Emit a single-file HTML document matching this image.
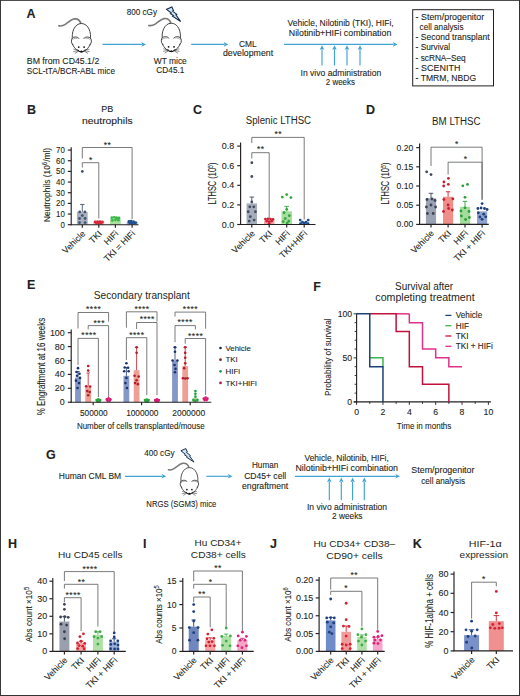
<!DOCTYPE html><html><head><meta charset="utf-8"><style>html,body{margin:0;padding:0;background:#fff;}svg{display:block;}text{font-family:"Liberation Sans", sans-serif;fill:#231f20;stroke:#231f20;stroke-width:0.1px;}</style></head><body>
<svg width="520" height="696" viewBox="0 0 520 696">
<rect x="0.00" y="0.00" width="520.00" height="696.00" fill="#ffffff" stroke="none" stroke-width="0"/>
<defs>
<g id="mouse">
 <path d="M-0.2,0.6 C-1.2,-2.8 -3.5,-5 -7,-4.6 C-10.5,-4.1 -13.5,-0.8 -16.5,1.2 C-18.5,2.5 -20.5,2.7 -22.6,2.3" fill="none" stroke="#7a7a7a" stroke-width="1.6" stroke-linecap="round"/>
 <path d="M-8.7,16.8 C-10.5,9 -6.8,0 0,0 C6.8,0 10.5,9 8.7,16.8 Z" fill="#fff" stroke="#262626" stroke-width="0.85"/>
 <circle cx="-5.9" cy="17.6" r="4.1" fill="#fff" stroke="#262626" stroke-width="0.85"/>
 <circle cx="5.9" cy="17.6" r="4.1" fill="#fff" stroke="#262626" stroke-width="0.85"/>
 <path d="M-9,16.6 A3.4,3.4 0 0 1 -2.6,17.6" fill="none" stroke="#a0a0a0" stroke-width="0.9"/>
 <path d="M9,16.6 A3.4,3.4 0 0 0 2.6,17.6" fill="none" stroke="#a0a0a0" stroke-width="0.9"/>
 <path d="M-5,15.2 L5,15.2 L8.2,20.5 C6,25 3,28.4 0,28.4 C-3,28.4 -6,25 -8.2,20.5 Z" fill="#fff"/>
 <path d="M-9,20.6 C-7.2,24.8 -3.2,28.4 0,28.4 C3.2,28.4 7.2,24.8 9,20.6" fill="none" stroke="#262626" stroke-width="0.85"/>
 <circle cx="-2.7" cy="23.6" r="0.9" fill="#111"/>
 <circle cx="2.7" cy="23.6" r="0.9" fill="#111"/>
 <path d="M-3.4,26.3 Q-1.8,29 0,28.4 Q1.8,29 3.4,26.3" fill="none" stroke="#111" stroke-width="1"/>
 <circle cx="0" cy="27.9" r="0.9" fill="#111"/>
 <path d="M-3,26.6 L-8,25.6 M-3,27.1 L-8.2,28.2 M-2.8,27.5 L-6.6,30 M3,26.6 L8,25.6 M3,27.1 L8.2,28.2 M2.8,27.5 L6.6,30" stroke="#2a2a2a" stroke-width="0.55" fill="none"/>
</g>
<g id="bolt">
 <path d="M0,2.3 L5.3,0 L6.9,3.6 L6,4.1 L10.2,7.4 L9.3,7.9 L14.1,14.5 L6,9.2 L6.8,8.6 L3.9,6.7 L4.7,6.1 Z" fill="#cfe5f6" stroke="#16264a" stroke-width="1.05" stroke-linejoin="miter"/>
</g>
</defs>
<text x="26.50" y="17.80" font-size="12.5" font-weight="bold">A</text>
<use href="#mouse" transform="translate(81.4,23.5)"/>
<text x="26.80" y="63.80" font-size="9" textLength="72.5" lengthAdjust="spacingAndGlyphs">BM from CD45.1/2</text>
<text x="26.80" y="74.40" font-size="9" textLength="88.2" lengthAdjust="spacingAndGlyphs">SCL-tTA/BCR-ABL mice</text>
<line x1="102.50" y1="44.40" x2="141.90" y2="44.40" stroke="#3fa3d1" stroke-width="1.15"/>
<path d="M146.00,44.40 L141.40,42.10 L142.32,44.40 L141.40,46.70 Z" fill="#3fa3d1"/>
<text x="126.70" y="14.50" font-size="9" textLength="30.3" lengthAdjust="spacingAndGlyphs">800 cGy</text>
<use href="#bolt" transform="translate(166.6,7)"/>
<use href="#mouse" transform="translate(171.3,23.2)"/>
<text x="153.70" y="63.70" font-size="9" textLength="33.1" lengthAdjust="spacingAndGlyphs">WT mice</text>
<text x="156.30" y="73.30" font-size="9" textLength="28.1" lengthAdjust="spacingAndGlyphs">CD45.1</text>
<line x1="191.20" y1="44.40" x2="224.20" y2="44.40" stroke="#3fa3d1" stroke-width="1.15"/>
<path d="M228.30,44.40 L223.70,42.10 L224.62,44.40 L223.70,46.70 Z" fill="#3fa3d1"/>
<text x="239.00" y="46.50" font-size="9" textLength="17.7" lengthAdjust="spacingAndGlyphs">CML</text>
<text x="222.90" y="56.10" font-size="9" textLength="50.2" lengthAdjust="spacingAndGlyphs">development</text>
<line x1="284.00" y1="44.40" x2="393.40" y2="44.40" stroke="#3fa3d1" stroke-width="1.15"/>
<path d="M397.50,44.40 L392.90,42.10 L393.82,44.40 L392.90,46.70 Z" fill="#3fa3d1"/>
<line x1="322.00" y1="65.50" x2="322.00" y2="49.30" stroke="#3fa3d1" stroke-width="1.15"/>
<path d="M322.00,45.20 L319.70,49.80 L322.00,48.88 L324.30,49.80 Z" fill="#3fa3d1"/>
<line x1="334.50" y1="65.50" x2="334.50" y2="49.30" stroke="#3fa3d1" stroke-width="1.15"/>
<path d="M334.50,45.20 L332.20,49.80 L334.50,48.88 L336.80,49.80 Z" fill="#3fa3d1"/>
<line x1="347.00" y1="65.50" x2="347.00" y2="49.30" stroke="#3fa3d1" stroke-width="1.15"/>
<path d="M347.00,45.20 L344.70,49.80 L347.00,48.88 L349.30,49.80 Z" fill="#3fa3d1"/>
<line x1="360.00" y1="65.50" x2="360.00" y2="49.30" stroke="#3fa3d1" stroke-width="1.15"/>
<path d="M360.00,45.20 L357.70,49.80 L360.00,48.88 L362.30,49.80 Z" fill="#3fa3d1"/>
<text x="287.50" y="25.70" font-size="9" textLength="106.2" lengthAdjust="spacingAndGlyphs">Vehicle, Nilotinib (TKI), HIFi,</text>
<text x="288.80" y="35.70" font-size="9" textLength="102.5" lengthAdjust="spacingAndGlyphs">Nilotinib+HIFi combination</text>
<text x="300.50" y="75.70" font-size="9" textLength="80.7" lengthAdjust="spacingAndGlyphs">In vivo administration</text>
<text x="325.80" y="85.20" font-size="9" textLength="29.2" lengthAdjust="spacingAndGlyphs">2 weeks</text>
<rect x="412.70" y="9.70" width="80.80" height="76.20" fill="none" stroke="#231f20" stroke-width="1"/>
<text x="415.60" y="19.80" font-size="9" textLength="68.6" lengthAdjust="spacingAndGlyphs">- Stem/progenitor</text>
<text x="419.60" y="30.00" font-size="9" textLength="43.9" lengthAdjust="spacingAndGlyphs">cell analysis</text>
<text x="415.60" y="40.20" font-size="9" textLength="73.9" lengthAdjust="spacingAndGlyphs">- Second transplant</text>
<text x="415.60" y="50.40" font-size="9" textLength="34.6" lengthAdjust="spacingAndGlyphs">- Survival</text>
<text x="415.60" y="60.60" font-size="9" textLength="50.1" lengthAdjust="spacingAndGlyphs">- scRNA–Seq</text>
<text x="415.60" y="70.80" font-size="9" textLength="44.8" lengthAdjust="spacingAndGlyphs">- SCENITH</text>
<text x="415.60" y="81.00" font-size="9" textLength="60.5" lengthAdjust="spacingAndGlyphs">- TMRM, NBDG</text>
<text x="27.00" y="113.80" font-size="12.5" font-weight="bold">B</text>
<text x="107.30" y="111.90" font-size="9" text-anchor="middle">PB</text>
<text x="107.30" y="124.10" font-size="9" text-anchor="middle" textLength="50.6" lengthAdjust="spacingAndGlyphs">neutrophils</text>
<line x1="71.20" y1="147.30" x2="71.20" y2="225.15" stroke="#231f20" stroke-width="1.15"/>
<line x1="67.80" y1="224.70" x2="71.20" y2="224.70" stroke="#231f20" stroke-width="1.15"/>
<text x="64.80" y="227.74" font-size="9.2" text-anchor="end" textLength="4.4" lengthAdjust="spacingAndGlyphs">0</text>
<line x1="67.80" y1="214.04" x2="71.20" y2="214.04" stroke="#231f20" stroke-width="1.15"/>
<text x="64.80" y="217.08" font-size="9.2" text-anchor="end" textLength="8.8" lengthAdjust="spacingAndGlyphs">10</text>
<line x1="67.80" y1="203.38" x2="71.20" y2="203.38" stroke="#231f20" stroke-width="1.15"/>
<text x="64.80" y="206.42" font-size="9.2" text-anchor="end" textLength="8.8" lengthAdjust="spacingAndGlyphs">20</text>
<line x1="67.80" y1="192.72" x2="71.20" y2="192.72" stroke="#231f20" stroke-width="1.15"/>
<text x="64.80" y="195.76" font-size="9.2" text-anchor="end" textLength="8.8" lengthAdjust="spacingAndGlyphs">30</text>
<line x1="67.80" y1="182.06" x2="71.20" y2="182.06" stroke="#231f20" stroke-width="1.15"/>
<text x="64.80" y="185.10" font-size="9.2" text-anchor="end" textLength="8.8" lengthAdjust="spacingAndGlyphs">40</text>
<line x1="67.80" y1="171.40" x2="71.20" y2="171.40" stroke="#231f20" stroke-width="1.15"/>
<text x="64.80" y="174.44" font-size="9.2" text-anchor="end" textLength="8.8" lengthAdjust="spacingAndGlyphs">50</text>
<line x1="67.80" y1="160.74" x2="71.20" y2="160.74" stroke="#231f20" stroke-width="1.15"/>
<text x="64.80" y="163.78" font-size="9.2" text-anchor="end" textLength="8.8" lengthAdjust="spacingAndGlyphs">60</text>
<line x1="67.80" y1="150.08" x2="71.20" y2="150.08" stroke="#231f20" stroke-width="1.15"/>
<text x="64.80" y="153.12" font-size="9.2" text-anchor="end" textLength="8.8" lengthAdjust="spacingAndGlyphs">70</text>
<text x="50.30" y="185.00" font-size="9.6" text-anchor="middle" transform="rotate(-90 50.30 185.00)" textLength="74.3" lengthAdjust="spacingAndGlyphs">Neutrophils (10<tspan font-size="6.8" dy="-3.3">6</tspan><tspan dy="3.3">/ml)</tspan></text>
<rect x="76.90" y="211.91" width="10.80" height="12.79" fill="#a7b0c0" stroke="none" stroke-width="0"/>
<line x1="82.30" y1="211.91" x2="82.30" y2="204.45" stroke="#4b586c" stroke-width="0.9"/>
<line x1="80.05" y1="204.45" x2="84.55" y2="204.45" stroke="#4b586c" stroke-width="0.9"/>
<circle cx="82.30" cy="171.40" r="1.4" fill="#44526a"/>
<circle cx="79.70" cy="211.91" r="1.4" fill="#44526a"/>
<circle cx="84.90" cy="211.91" r="1.4" fill="#44526a"/>
<circle cx="82.30" cy="215.53" r="1.4" fill="#44526a"/>
<circle cx="79.50" cy="218.52" r="1.4" fill="#44526a"/>
<circle cx="85.10" cy="218.52" r="1.4" fill="#44526a"/>
<circle cx="79.50" cy="222.57" r="1.4" fill="#44526a"/>
<circle cx="85.10" cy="222.57" r="1.4" fill="#44526a"/>
<rect x="93.40" y="221.50" width="10.80" height="3.20" fill="#f2a3a6" stroke="none" stroke-width="0"/>
<circle cx="95.20" cy="221.93" r="1.4" fill="#d42a3c"/>
<circle cx="97.60" cy="221.61" r="1.4" fill="#d42a3c"/>
<circle cx="100.00" cy="221.72" r="1.4" fill="#d42a3c"/>
<circle cx="102.40" cy="221.93" r="1.4" fill="#d42a3c"/>
<circle cx="96.40" cy="223.10" r="1.4" fill="#d42a3c"/>
<circle cx="98.80" cy="222.99" r="1.4" fill="#d42a3c"/>
<circle cx="101.20" cy="223.10" r="1.4" fill="#d42a3c"/>
<rect x="110.00" y="218.84" width="10.80" height="5.86" fill="#a8e0a0" stroke="none" stroke-width="0"/>
<circle cx="111.80" cy="217.77" r="1.4" fill="#3db848"/>
<circle cx="114.20" cy="217.34" r="1.4" fill="#3db848"/>
<circle cx="116.60" cy="217.66" r="1.4" fill="#3db848"/>
<circle cx="119.00" cy="217.88" r="1.4" fill="#3db848"/>
<circle cx="112.40" cy="220.44" r="1.4" fill="#3db848"/>
<circle cx="118.40" cy="220.22" r="1.4" fill="#3db848"/>
<circle cx="115.40" cy="219.90" r="1.4" fill="#3db848"/>
<circle cx="116.60" cy="218.30" r="1.4" fill="#3db848"/>
<rect x="126.70" y="222.03" width="10.80" height="2.66" fill="#8da3cc" stroke="none" stroke-width="0"/>
<circle cx="128.90" cy="221.50" r="1.4" fill="#1f4f90"/>
<circle cx="131.10" cy="221.08" r="1.4" fill="#1f4f90"/>
<circle cx="133.50" cy="221.72" r="1.4" fill="#1f4f90"/>
<circle cx="135.70" cy="222.57" r="1.4" fill="#1f4f90"/>
<circle cx="129.70" cy="222.99" r="1.4" fill="#1f4f90"/>
<circle cx="132.10" cy="222.99" r="1.4" fill="#1f4f90"/>
<circle cx="134.50" cy="223.10" r="1.4" fill="#1f4f90"/>
<line x1="70.75" y1="224.70" x2="138.50" y2="224.70" stroke="#231f20" stroke-width="1.15"/>
<line x1="82.30" y1="224.70" x2="82.30" y2="227.70" stroke="#231f20" stroke-width="1.15"/>
<line x1="98.80" y1="224.70" x2="98.80" y2="227.70" stroke="#231f20" stroke-width="1.15"/>
<line x1="115.40" y1="224.70" x2="115.40" y2="227.70" stroke="#231f20" stroke-width="1.15"/>
<line x1="132.10" y1="224.70" x2="132.10" y2="227.70" stroke="#231f20" stroke-width="1.15"/>
<polyline points="82.30,158.50 82.30,147.50 132.10,147.50 132.10,219.00" stroke="#58595b" stroke-width="0.8" fill="none"/>
<text x="107.45" y="147.78" font-size="8.5" text-anchor="middle" letter-spacing="0.5" fill="#333">**</text>
<polyline points="82.30,167.50 82.30,162.70 98.80,162.70 98.80,218.50" stroke="#58595b" stroke-width="0.8" fill="none"/>
<text x="90.85" y="162.78" font-size="8.5" text-anchor="middle" letter-spacing="0.5" fill="#333">*</text>
<text x="85.90" y="234.20" font-size="8.8" text-anchor="end" transform="rotate(-45 85.90 234.20)">Vehicle</text>
<text x="102.40" y="234.20" font-size="8.8" text-anchor="end" transform="rotate(-45 102.40 234.20)">TKI</text>
<text x="119.00" y="234.20" font-size="8.8" text-anchor="end" transform="rotate(-45 119.00 234.20)">HIFi</text>
<text x="135.70" y="234.20" font-size="8.8" text-anchor="end" transform="rotate(-45 135.70 234.20)">TKI = HIFi</text>
<text x="192.90" y="113.80" font-size="12.5" font-weight="bold">C</text>
<text x="245.80" y="124.20" font-size="10" textLength="65.3" lengthAdjust="spacingAndGlyphs" style="stroke:none">Splenic LTHSC</text>
<line x1="240.60" y1="142.50" x2="240.60" y2="224.95" stroke="#231f20" stroke-width="1.15"/>
<line x1="237.20" y1="224.50" x2="240.60" y2="224.50" stroke="#231f20" stroke-width="1.15"/>
<text x="234.20" y="227.54" font-size="9.2" text-anchor="end" textLength="12.41" lengthAdjust="spacingAndGlyphs">0.0</text>
<line x1="237.20" y1="204.90" x2="240.60" y2="204.90" stroke="#231f20" stroke-width="1.15"/>
<text x="234.20" y="207.94" font-size="9.2" text-anchor="end" textLength="12.41" lengthAdjust="spacingAndGlyphs">0.2</text>
<line x1="237.20" y1="185.30" x2="240.60" y2="185.30" stroke="#231f20" stroke-width="1.15"/>
<text x="234.20" y="188.34" font-size="9.2" text-anchor="end" textLength="12.41" lengthAdjust="spacingAndGlyphs">0.4</text>
<line x1="237.20" y1="165.70" x2="240.60" y2="165.70" stroke="#231f20" stroke-width="1.15"/>
<text x="234.20" y="168.74" font-size="9.2" text-anchor="end" textLength="12.41" lengthAdjust="spacingAndGlyphs">0.6</text>
<line x1="237.20" y1="146.10" x2="240.60" y2="146.10" stroke="#231f20" stroke-width="1.15"/>
<text x="234.20" y="149.14" font-size="9.2" text-anchor="end" textLength="12.41" lengthAdjust="spacingAndGlyphs">0.8</text>
<text x="216.50" y="183.60" font-size="10" text-anchor="middle" transform="rotate(-90 216.50 183.60)" textLength="42" lengthAdjust="spacingAndGlyphs">LTHSC (10<tspan font-size="7" dy="-3.4">5</tspan><tspan dy="3.4">)</tspan></text>
<rect x="246.55" y="203.43" width="10.50" height="21.07" fill="#a5adbd" stroke="none" stroke-width="0"/>
<line x1="251.80" y1="203.43" x2="251.80" y2="197.06" stroke="#434d5e" stroke-width="0.9"/>
<line x1="249.55" y1="197.06" x2="254.05" y2="197.06" stroke="#434d5e" stroke-width="0.9"/>
<circle cx="251.80" cy="162.76" r="1.4" fill="#434d5e"/>
<circle cx="251.80" cy="176.48" r="1.4" fill="#434d5e"/>
<circle cx="251.80" cy="201.96" r="1.4" fill="#434d5e"/>
<circle cx="249.80" cy="206.86" r="1.4" fill="#434d5e"/>
<circle cx="253.80" cy="206.86" r="1.4" fill="#434d5e"/>
<circle cx="248.20" cy="211.76" r="1.4" fill="#434d5e"/>
<circle cx="255.40" cy="211.76" r="1.4" fill="#434d5e"/>
<circle cx="250.30" cy="216.66" r="1.4" fill="#434d5e"/>
<circle cx="254.10" cy="220.09" r="1.4" fill="#434d5e"/>
<circle cx="249.20" cy="221.07" r="1.4" fill="#434d5e"/>
<rect x="263.95" y="220.58" width="10.50" height="3.92" fill="#f2a3a6" stroke="none" stroke-width="0"/>
<circle cx="265.40" cy="219.11" r="1.4" fill="#cc1f34"/>
<circle cx="267.90" cy="218.82" r="1.4" fill="#cc1f34"/>
<circle cx="270.50" cy="219.11" r="1.4" fill="#cc1f34"/>
<circle cx="273.00" cy="219.40" r="1.4" fill="#cc1f34"/>
<circle cx="266.70" cy="221.07" r="1.4" fill="#cc1f34"/>
<circle cx="269.20" cy="221.56" r="1.4" fill="#cc1f34"/>
<circle cx="271.70" cy="221.07" r="1.4" fill="#cc1f34"/>
<circle cx="269.20" cy="223.32" r="1.4" fill="#cc1f34"/>
<rect x="281.45" y="211.27" width="10.50" height="13.23" fill="#a8dca0" stroke="none" stroke-width="0"/>
<line x1="286.70" y1="211.27" x2="286.70" y2="206.37" stroke="#2fa83a" stroke-width="0.9"/>
<line x1="284.45" y1="206.37" x2="288.95" y2="206.37" stroke="#2fa83a" stroke-width="0.9"/>
<circle cx="282.30" cy="197.06" r="1.4" fill="#2fa83a"/>
<circle cx="286.70" cy="194.61" r="1.4" fill="#2fa83a"/>
<circle cx="290.90" cy="197.55" r="1.4" fill="#2fa83a"/>
<circle cx="286.70" cy="209.31" r="1.4" fill="#2fa83a"/>
<circle cx="284.10" cy="212.74" r="1.4" fill="#2fa83a"/>
<circle cx="289.30" cy="215.68" r="1.4" fill="#2fa83a"/>
<circle cx="285.20" cy="218.62" r="1.4" fill="#2fa83a"/>
<circle cx="288.70" cy="221.07" r="1.4" fill="#2fa83a"/>
<circle cx="283.20" cy="221.56" r="1.4" fill="#2fa83a"/>
<circle cx="287.20" cy="223.03" r="1.4" fill="#2fa83a"/>
<rect x="298.95" y="222.54" width="10.50" height="1.96" fill="#8da3cc" stroke="none" stroke-width="0"/>
<circle cx="300.20" cy="220.09" r="1.4" fill="#1b4b8a"/>
<circle cx="308.20" cy="220.09" r="1.4" fill="#1b4b8a"/>
<circle cx="302.40" cy="222.05" r="1.4" fill="#1b4b8a"/>
<circle cx="306.00" cy="222.05" r="1.4" fill="#1b4b8a"/>
<circle cx="304.20" cy="223.03" r="1.4" fill="#1b4b8a"/>
<circle cx="300.60" cy="223.72" r="1.4" fill="#1b4b8a"/>
<circle cx="307.80" cy="223.72" r="1.4" fill="#1b4b8a"/>
<line x1="240.15" y1="224.50" x2="315.50" y2="224.50" stroke="#231f20" stroke-width="1.15"/>
<line x1="251.80" y1="224.50" x2="251.80" y2="227.50" stroke="#231f20" stroke-width="1.15"/>
<line x1="269.20" y1="224.50" x2="269.20" y2="227.50" stroke="#231f20" stroke-width="1.15"/>
<line x1="286.70" y1="224.50" x2="286.70" y2="227.50" stroke="#231f20" stroke-width="1.15"/>
<line x1="304.20" y1="224.50" x2="304.20" y2="227.50" stroke="#231f20" stroke-width="1.15"/>
<polyline points="251.80,143.00 251.80,137.40 304.20,137.40 304.20,219.50" stroke="#58595b" stroke-width="0.8" fill="none"/>
<text x="278.25" y="136.98" font-size="8.5" text-anchor="middle" letter-spacing="0.5" fill="#333">**</text>
<polyline points="251.80,158.50 251.80,152.70 269.20,152.70 269.20,218.50" stroke="#58595b" stroke-width="0.8" fill="none"/>
<text x="260.75" y="152.48" font-size="8.5" text-anchor="middle" letter-spacing="0.5" fill="#333">**</text>
<text x="255.40" y="234.00" font-size="8.8" text-anchor="end" transform="rotate(-45 255.40 234.00)">Vehicle</text>
<text x="272.80" y="234.00" font-size="8.8" text-anchor="end" transform="rotate(-45 272.80 234.00)">TKI</text>
<text x="290.30" y="234.00" font-size="8.8" text-anchor="end" transform="rotate(-45 290.30 234.00)">HIFi</text>
<text x="307.80" y="234.00" font-size="8.8" text-anchor="end" transform="rotate(-45 307.80 234.00)">TKI+HIFi</text>
<text x="366.00" y="113.80" font-size="12.5" font-weight="bold">D</text>
<text x="432.10" y="124.60" font-size="10" textLength="48.5" lengthAdjust="spacingAndGlyphs" style="stroke:none">BM LTHSC</text>
<line x1="419.60" y1="143.50" x2="419.60" y2="224.85" stroke="#231f20" stroke-width="1.15"/>
<line x1="416.20" y1="224.40" x2="419.60" y2="224.40" stroke="#231f20" stroke-width="1.15"/>
<text x="413.20" y="227.44" font-size="9.2" text-anchor="end" textLength="16.65" lengthAdjust="spacingAndGlyphs">0.00</text>
<line x1="416.20" y1="205.21" x2="419.60" y2="205.21" stroke="#231f20" stroke-width="1.15"/>
<text x="413.20" y="208.25" font-size="9.2" text-anchor="end" textLength="16.65" lengthAdjust="spacingAndGlyphs">0.05</text>
<line x1="416.20" y1="186.02" x2="419.60" y2="186.02" stroke="#231f20" stroke-width="1.15"/>
<text x="413.20" y="189.06" font-size="9.2" text-anchor="end" textLength="16.65" lengthAdjust="spacingAndGlyphs">0.10</text>
<line x1="416.20" y1="166.83" x2="419.60" y2="166.83" stroke="#231f20" stroke-width="1.15"/>
<text x="413.20" y="169.87" font-size="9.2" text-anchor="end" textLength="16.65" lengthAdjust="spacingAndGlyphs">0.15</text>
<line x1="416.20" y1="147.64" x2="419.60" y2="147.64" stroke="#231f20" stroke-width="1.15"/>
<text x="413.20" y="150.68" font-size="9.2" text-anchor="end" textLength="16.65" lengthAdjust="spacingAndGlyphs">0.20</text>
<text x="389.40" y="183.60" font-size="10" text-anchor="middle" transform="rotate(-90 389.40 183.60)" textLength="42" lengthAdjust="spacingAndGlyphs">LTHSC (10<tspan font-size="7" dy="-3.4">5</tspan><tspan dy="3.4">)</tspan></text>
<rect x="425.90" y="198.30" width="10.20" height="26.10" fill="#9ba3b3" stroke="none" stroke-width="0"/>
<line x1="431.00" y1="198.30" x2="431.00" y2="193.31" stroke="#3c4456" stroke-width="0.9"/>
<line x1="428.75" y1="193.31" x2="433.25" y2="193.31" stroke="#3c4456" stroke-width="0.9"/>
<circle cx="426.70" cy="171.80" r="1.4" fill="#3c4456"/>
<circle cx="431.00" cy="174.60" r="1.4" fill="#3c4456"/>
<circle cx="427.00" cy="199.50" r="1.4" fill="#3c4456"/>
<circle cx="432.00" cy="199.00" r="1.4" fill="#3c4456"/>
<circle cx="435.00" cy="200.50" r="1.4" fill="#3c4456"/>
<circle cx="426.40" cy="207.00" r="1.4" fill="#3c4456"/>
<circle cx="431.00" cy="205.00" r="1.4" fill="#3c4456"/>
<circle cx="435.60" cy="207.00" r="1.4" fill="#3c4456"/>
<circle cx="427.40" cy="213.50" r="1.4" fill="#3c4456"/>
<circle cx="433.20" cy="213.50" r="1.4" fill="#3c4456"/>
<rect x="443.00" y="196.77" width="10.20" height="27.63" fill="#ef8f8a" stroke="none" stroke-width="0"/>
<line x1="448.10" y1="196.77" x2="448.10" y2="191.78" stroke="#c81e32" stroke-width="0.9"/>
<line x1="445.85" y1="191.78" x2="450.35" y2="191.78" stroke="#c81e32" stroke-width="0.9"/>
<circle cx="448.40" cy="178.30" r="1.4" fill="#c81e32"/>
<circle cx="443.90" cy="182.00" r="1.4" fill="#c81e32"/>
<circle cx="448.30" cy="184.30" r="1.4" fill="#c81e32"/>
<circle cx="443.70" cy="186.00" r="1.4" fill="#c81e32"/>
<circle cx="452.90" cy="198.80" r="1.4" fill="#c81e32"/>
<circle cx="443.90" cy="199.50" r="1.4" fill="#c81e32"/>
<circle cx="448.10" cy="205.00" r="1.4" fill="#c81e32"/>
<circle cx="443.50" cy="211.50" r="1.4" fill="#c81e32"/>
<circle cx="452.30" cy="210.00" r="1.4" fill="#c81e32"/>
<circle cx="448.60" cy="208.50" r="1.4" fill="#c81e32"/>
<rect x="459.90" y="206.75" width="10.20" height="17.65" fill="#a4dc9c" stroke="none" stroke-width="0"/>
<line x1="465.00" y1="206.75" x2="465.00" y2="201.37" stroke="#2d9e3a" stroke-width="0.9"/>
<line x1="462.75" y1="201.37" x2="467.25" y2="201.37" stroke="#2d9e3a" stroke-width="0.9"/>
<circle cx="462.80" cy="185.80" r="1.4" fill="#2d9e3a"/>
<circle cx="467.50" cy="184.40" r="1.4" fill="#2d9e3a"/>
<circle cx="465.00" cy="197.30" r="1.4" fill="#2d9e3a"/>
<circle cx="465.00" cy="207.80" r="1.4" fill="#2d9e3a"/>
<circle cx="461.00" cy="211.00" r="1.4" fill="#2d9e3a"/>
<circle cx="469.00" cy="211.50" r="1.4" fill="#2d9e3a"/>
<circle cx="461.40" cy="216.00" r="1.4" fill="#2d9e3a"/>
<circle cx="465.60" cy="219.50" r="1.4" fill="#2d9e3a"/>
<circle cx="469.40" cy="217.50" r="1.4" fill="#2d9e3a"/>
<rect x="477.00" y="211.35" width="10.20" height="13.05" fill="#8ea3cf" stroke="none" stroke-width="0"/>
<circle cx="482.10" cy="203.60" r="1.4" fill="#1d3f7c"/>
<circle cx="477.90" cy="208.50" r="1.4" fill="#1d3f7c"/>
<circle cx="481.10" cy="208.00" r="1.4" fill="#1d3f7c"/>
<circle cx="484.50" cy="208.50" r="1.4" fill="#1d3f7c"/>
<circle cx="487.10" cy="209.50" r="1.4" fill="#1d3f7c"/>
<circle cx="478.30" cy="212.80" r="1.4" fill="#1d3f7c"/>
<circle cx="483.70" cy="214.20" r="1.4" fill="#1d3f7c"/>
<circle cx="479.90" cy="217.00" r="1.4" fill="#1d3f7c"/>
<circle cx="485.70" cy="216.80" r="1.4" fill="#1d3f7c"/>
<circle cx="482.10" cy="219.30" r="1.4" fill="#1d3f7c"/>
<line x1="419.15" y1="224.40" x2="488.80" y2="224.40" stroke="#231f20" stroke-width="1.15"/>
<line x1="431.00" y1="224.40" x2="431.00" y2="227.40" stroke="#231f20" stroke-width="1.15"/>
<line x1="448.10" y1="224.40" x2="448.10" y2="227.40" stroke="#231f20" stroke-width="1.15"/>
<line x1="465.00" y1="224.40" x2="465.00" y2="227.40" stroke="#231f20" stroke-width="1.15"/>
<line x1="482.10" y1="224.40" x2="482.10" y2="227.40" stroke="#231f20" stroke-width="1.15"/>
<polyline points="431.00,166.00 431.00,147.20 482.10,147.20 482.10,199.50" stroke="#58595b" stroke-width="0.8" fill="none"/>
<text x="456.80" y="146.68" font-size="8.5" text-anchor="middle" letter-spacing="0.5" fill="#333">*</text>
<polyline points="448.10,174.50 448.10,162.20 482.10,162.20 482.10,200.00" stroke="#58595b" stroke-width="0.8" fill="none"/>
<text x="465.55" y="161.68" font-size="8.5" text-anchor="middle" letter-spacing="0.5" fill="#333">*</text>
<text x="434.60" y="233.90" font-size="8.8" text-anchor="end" transform="rotate(-45 434.60 233.90)">Vehicle</text>
<text x="451.70" y="233.90" font-size="8.8" text-anchor="end" transform="rotate(-45 451.70 233.90)">TKI</text>
<text x="468.60" y="233.90" font-size="8.8" text-anchor="end" transform="rotate(-45 468.60 233.90)">HIFi</text>
<text x="485.70" y="233.90" font-size="8.8" text-anchor="end" transform="rotate(-45 485.70 233.90)">TKI + HIFi</text>
<text x="27.00" y="289.00" font-size="12.5" font-weight="bold">E</text>
<text x="93.80" y="299.10" font-size="10.3" textLength="96" lengthAdjust="spacingAndGlyphs" style="stroke:none">Secondary transplant</text>
<line x1="71.20" y1="329.50" x2="71.20" y2="402.65" stroke="#231f20" stroke-width="1.15"/>
<line x1="67.80" y1="402.20" x2="71.20" y2="402.20" stroke="#231f20" stroke-width="1.15"/>
<text x="64.80" y="405.24" font-size="9.2" text-anchor="end" textLength="4.96" lengthAdjust="spacingAndGlyphs">0</text>
<line x1="67.80" y1="388.30" x2="71.20" y2="388.30" stroke="#231f20" stroke-width="1.15"/>
<text x="64.80" y="391.34" font-size="9.2" text-anchor="end" textLength="9.93" lengthAdjust="spacingAndGlyphs">20</text>
<line x1="67.80" y1="374.40" x2="71.20" y2="374.40" stroke="#231f20" stroke-width="1.15"/>
<text x="64.80" y="377.44" font-size="9.2" text-anchor="end" textLength="9.93" lengthAdjust="spacingAndGlyphs">40</text>
<line x1="67.80" y1="360.50" x2="71.20" y2="360.50" stroke="#231f20" stroke-width="1.15"/>
<text x="64.80" y="363.54" font-size="9.2" text-anchor="end" textLength="9.93" lengthAdjust="spacingAndGlyphs">60</text>
<line x1="67.80" y1="346.60" x2="71.20" y2="346.60" stroke="#231f20" stroke-width="1.15"/>
<text x="64.80" y="349.64" font-size="9.2" text-anchor="end" textLength="9.93" lengthAdjust="spacingAndGlyphs">80</text>
<line x1="67.80" y1="332.70" x2="71.20" y2="332.70" stroke="#231f20" stroke-width="1.15"/>
<text x="64.80" y="335.74" font-size="9.2" text-anchor="end" textLength="14.89" lengthAdjust="spacingAndGlyphs">100</text>
<text x="44.50" y="366.50" font-size="10" text-anchor="middle" transform="rotate(-90 44.50 366.50)" textLength="97.5" lengthAdjust="spacingAndGlyphs">% Engraftment at 16 weeks</text>
<rect x="75.10" y="377.53" width="5.80" height="24.67" fill="#8598c6" stroke="none" stroke-width="0"/>
<line x1="78.00" y1="377.53" x2="78.00" y2="371.62" stroke="#1a3370" stroke-width="0.8"/>
<line x1="76.30" y1="371.62" x2="79.70" y2="371.62" stroke="#1a3370" stroke-width="0.8"/>
<circle cx="78.00" cy="368.14" r="1.3" fill="#1a3370"/>
<circle cx="76.50" cy="371.97" r="1.3" fill="#1a3370"/>
<circle cx="79.50" cy="373.70" r="1.3" fill="#1a3370"/>
<circle cx="77.00" cy="375.79" r="1.3" fill="#1a3370"/>
<circle cx="80.00" cy="377.88" r="1.3" fill="#1a3370"/>
<circle cx="76.00" cy="380.65" r="1.3" fill="#1a3370"/>
<circle cx="79.00" cy="383.09" r="1.3" fill="#1a3370"/>
<circle cx="77.50" cy="387.95" r="1.3" fill="#1a3370"/>
<rect x="85.30" y="386.21" width="5.80" height="15.99" fill="#eea095" stroke="none" stroke-width="0"/>
<line x1="88.20" y1="386.21" x2="88.20" y2="373.01" stroke="#b81a2a" stroke-width="0.8"/>
<line x1="86.50" y1="373.01" x2="89.90" y2="373.01" stroke="#b81a2a" stroke-width="0.8"/>
<circle cx="88.20" cy="366.06" r="1.3" fill="#b81a2a"/>
<circle cx="88.20" cy="370.58" r="1.3" fill="#b81a2a"/>
<circle cx="86.20" cy="386.21" r="1.3" fill="#b81a2a"/>
<circle cx="90.20" cy="386.56" r="1.3" fill="#b81a2a"/>
<circle cx="87.20" cy="391.08" r="1.3" fill="#b81a2a"/>
<circle cx="89.70" cy="392.12" r="1.3" fill="#b81a2a"/>
<circle cx="88.20" cy="395.25" r="1.3" fill="#b81a2a"/>
<circle cx="96.60" cy="400.12" r="1.35" fill="#2aa23e"/>
<circle cx="98.40" cy="399.42" r="1.35" fill="#2aa23e"/>
<circle cx="100.20" cy="400.12" r="1.35" fill="#2aa23e"/>
<circle cx="97.40" cy="401.16" r="1.35" fill="#2aa23e"/>
<circle cx="99.40" cy="401.16" r="1.35" fill="#2aa23e"/>
<circle cx="106.80" cy="399.42" r="1.35" fill="#d81a72"/>
<circle cx="108.60" cy="398.38" r="1.35" fill="#d81a72"/>
<circle cx="110.40" cy="399.42" r="1.35" fill="#d81a72"/>
<circle cx="107.60" cy="400.81" r="1.35" fill="#d81a72"/>
<circle cx="109.60" cy="400.67" r="1.35" fill="#d81a72"/>
<rect x="123.50" y="375.79" width="5.80" height="26.41" fill="#8598c6" stroke="none" stroke-width="0"/>
<line x1="126.40" y1="375.79" x2="126.40" y2="367.45" stroke="#1a3370" stroke-width="0.8"/>
<line x1="124.70" y1="367.45" x2="128.10" y2="367.45" stroke="#1a3370" stroke-width="0.8"/>
<circle cx="126.40" cy="363.28" r="1.3" fill="#1a3370"/>
<circle cx="124.70" cy="367.45" r="1.3" fill="#1a3370"/>
<circle cx="128.10" cy="367.80" r="1.3" fill="#1a3370"/>
<circle cx="124.20" cy="371.27" r="1.3" fill="#1a3370"/>
<circle cx="128.60" cy="371.27" r="1.3" fill="#1a3370"/>
<circle cx="126.40" cy="377.88" r="1.3" fill="#1a3370"/>
<circle cx="125.40" cy="383.09" r="1.3" fill="#1a3370"/>
<circle cx="126.90" cy="387.95" r="1.3" fill="#1a3370"/>
<rect x="133.70" y="370.23" width="5.80" height="31.97" fill="#eea095" stroke="none" stroke-width="0"/>
<line x1="136.60" y1="370.23" x2="136.60" y2="347.30" stroke="#b81a2a" stroke-width="0.8"/>
<line x1="134.90" y1="347.30" x2="138.30" y2="347.30" stroke="#b81a2a" stroke-width="0.8"/>
<circle cx="136.60" cy="347.30" r="1.3" fill="#b81a2a"/>
<circle cx="136.60" cy="352.86" r="1.3" fill="#b81a2a"/>
<circle cx="134.60" cy="375.79" r="1.3" fill="#b81a2a"/>
<circle cx="138.60" cy="376.49" r="1.3" fill="#b81a2a"/>
<circle cx="136.60" cy="380.31" r="1.3" fill="#b81a2a"/>
<circle cx="135.10" cy="383.09" r="1.3" fill="#b81a2a"/>
<circle cx="137.80" cy="384.13" r="1.3" fill="#b81a2a"/>
<circle cx="145.00" cy="400.12" r="1.35" fill="#2aa23e"/>
<circle cx="146.80" cy="399.56" r="1.35" fill="#2aa23e"/>
<circle cx="148.60" cy="400.12" r="1.35" fill="#2aa23e"/>
<circle cx="145.80" cy="401.16" r="1.35" fill="#2aa23e"/>
<circle cx="147.80" cy="401.16" r="1.35" fill="#2aa23e"/>
<circle cx="155.20" cy="400.12" r="1.35" fill="#d81a72"/>
<circle cx="157.00" cy="399.42" r="1.35" fill="#d81a72"/>
<circle cx="158.80" cy="400.12" r="1.35" fill="#d81a72"/>
<circle cx="156.00" cy="401.16" r="1.35" fill="#d81a72"/>
<circle cx="158.00" cy="401.16" r="1.35" fill="#d81a72"/>
<rect x="172.10" y="360.50" width="5.80" height="41.70" fill="#8598c6" stroke="none" stroke-width="0"/>
<line x1="175.00" y1="360.50" x2="175.00" y2="347.30" stroke="#1a3370" stroke-width="0.8"/>
<line x1="173.30" y1="347.30" x2="176.70" y2="347.30" stroke="#1a3370" stroke-width="0.8"/>
<circle cx="175.00" cy="347.30" r="1.3" fill="#1a3370"/>
<circle cx="175.00" cy="351.81" r="1.3" fill="#1a3370"/>
<circle cx="172.60" cy="360.50" r="1.3" fill="#1a3370"/>
<circle cx="177.40" cy="360.50" r="1.3" fill="#1a3370"/>
<circle cx="174.50" cy="365.02" r="1.3" fill="#1a3370"/>
<circle cx="175.50" cy="368.84" r="1.3" fill="#1a3370"/>
<circle cx="175.00" cy="372.31" r="1.3" fill="#1a3370"/>
<rect x="182.30" y="366.06" width="5.80" height="36.14" fill="#eea095" stroke="none" stroke-width="0"/>
<line x1="185.20" y1="366.06" x2="185.20" y2="347.30" stroke="#b81a2a" stroke-width="0.8"/>
<line x1="183.50" y1="347.30" x2="186.90" y2="347.30" stroke="#b81a2a" stroke-width="0.8"/>
<circle cx="185.20" cy="347.30" r="1.3" fill="#b81a2a"/>
<circle cx="185.20" cy="352.86" r="1.3" fill="#b81a2a"/>
<circle cx="185.20" cy="357.72" r="1.3" fill="#b81a2a"/>
<circle cx="185.20" cy="363.28" r="1.3" fill="#b81a2a"/>
<circle cx="184.20" cy="368.14" r="1.3" fill="#b81a2a"/>
<circle cx="182.90" cy="378.22" r="1.3" fill="#b81a2a"/>
<circle cx="187.50" cy="378.22" r="1.3" fill="#b81a2a"/>
<circle cx="185.20" cy="378.57" r="1.3" fill="#b81a2a"/>
<rect x="192.50" y="398.03" width="5.80" height="4.17" fill="#a8dca0" stroke="none" stroke-width="0"/>
<circle cx="195.40" cy="391.08" r="1.35" fill="#2aa23e"/>
<circle cx="195.40" cy="393.86" r="1.35" fill="#2aa23e"/>
<circle cx="195.40" cy="396.64" r="1.35" fill="#2aa23e"/>
<circle cx="193.40" cy="400.12" r="1.35" fill="#2aa23e"/>
<circle cx="197.40" cy="400.12" r="1.35" fill="#2aa23e"/>
<circle cx="195.40" cy="400.81" r="1.35" fill="#2aa23e"/>
<circle cx="203.80" cy="398.72" r="1.35" fill="#d81a72"/>
<circle cx="205.60" cy="397.68" r="1.35" fill="#d81a72"/>
<circle cx="207.40" cy="398.72" r="1.35" fill="#d81a72"/>
<circle cx="204.60" cy="400.12" r="1.35" fill="#d81a72"/>
<circle cx="206.60" cy="400.12" r="1.35" fill="#d81a72"/>
<line x1="70.75" y1="402.20" x2="211.30" y2="402.20" stroke="#231f20" stroke-width="1.15"/>
<line x1="93.20" y1="402.20" x2="93.20" y2="405.20" stroke="#231f20" stroke-width="1.15"/>
<line x1="141.60" y1="402.20" x2="141.60" y2="405.20" stroke="#231f20" stroke-width="1.15"/>
<line x1="190.20" y1="402.20" x2="190.20" y2="405.20" stroke="#231f20" stroke-width="1.15"/>
<polyline points="78.00,328.50 78.00,312.50 108.60,312.50 108.60,321.60" stroke="#58595b" stroke-width="0.8" fill="none"/>
<text x="93.65" y="312.48" font-size="8.5" text-anchor="middle" letter-spacing="0.5" fill="#333">****</text>
<polyline points="88.20,329.40 88.20,325.60 108.60,325.60 108.60,397.00" stroke="#58595b" stroke-width="0.8" fill="none"/>
<text x="99.25" y="325.78" font-size="8.5" text-anchor="middle" letter-spacing="0.5" fill="#333">***</text>
<polyline points="78.00,365.00 78.00,338.40 98.40,338.40 98.40,397.00" stroke="#58595b" stroke-width="0.8" fill="none"/>
<text x="88.95" y="338.38" font-size="8.5" text-anchor="middle" letter-spacing="0.5" fill="#333">****</text>
<polyline points="126.40,327.70 126.40,311.80 157.00,311.80 157.00,321.60" stroke="#58595b" stroke-width="0.8" fill="none"/>
<text x="142.05" y="312.48" font-size="8.5" text-anchor="middle" letter-spacing="0.5" fill="#333">****</text>
<polyline points="136.60,329.00 136.60,322.50 157.00,322.50 157.00,395.00" stroke="#58595b" stroke-width="0.8" fill="none"/>
<text x="147.25" y="321.98" font-size="8.5" text-anchor="middle" letter-spacing="0.5" fill="#333">****</text>
<polyline points="126.40,360.00 126.40,337.70 146.80,337.70 146.80,395.00" stroke="#58595b" stroke-width="0.8" fill="none"/>
<text x="136.85" y="337.57" font-size="8.5" text-anchor="middle" letter-spacing="0.5" fill="#333">****</text>
<polyline points="175.00,316.60 175.00,312.10 205.60,312.10 205.60,328.70" stroke="#58595b" stroke-width="0.8" fill="none"/>
<text x="190.45" y="312.48" font-size="8.5" text-anchor="middle" letter-spacing="0.5" fill="#333">****</text>
<polyline points="175.00,342.20 175.00,325.60 195.40,325.60 195.40,329.40" stroke="#58595b" stroke-width="0.8" fill="none"/>
<text x="185.15" y="325.38" font-size="8.5" text-anchor="middle" letter-spacing="0.5" fill="#333">****</text>
<polyline points="185.20,343.70 185.20,338.50 205.60,338.50 205.60,395.00" stroke="#58595b" stroke-width="0.8" fill="none"/>
<text x="195.65" y="338.68" font-size="8.5" text-anchor="middle" letter-spacing="0.5" fill="#333">****</text>
<text x="93.80" y="416.20" font-size="9" text-anchor="middle" textLength="27.7" lengthAdjust="spacingAndGlyphs">500000</text>
<text x="142.30" y="416.20" font-size="9" text-anchor="middle" textLength="32.3" lengthAdjust="spacingAndGlyphs">1000000</text>
<text x="188.70" y="416.20" font-size="9" text-anchor="middle" textLength="32.9" lengthAdjust="spacingAndGlyphs">2000000</text>
<text x="76.90" y="429.40" font-size="9.8" textLength="127.7" lengthAdjust="spacingAndGlyphs">Number of cells transplanted/mouse</text>
<circle cx="220.50" cy="348.00" r="1.35" fill="#1d2d4d"/>
<text x="225.50" y="350.70" font-size="7.9">Vehicle</text>
<circle cx="220.50" cy="359.65" r="1.35" fill="#8a1c24"/>
<text x="225.50" y="362.35" font-size="7.9">TKI</text>
<circle cx="220.50" cy="371.30" r="1.35" fill="#1f9a50"/>
<text x="225.50" y="374.00" font-size="7.9">HIFi</text>
<circle cx="220.50" cy="382.95" r="1.35" fill="#a81a55"/>
<text x="225.50" y="385.65" font-size="7.9">TKI+HIFi</text>
<text x="313.20" y="290.90" font-size="12.5" font-weight="bold">F</text>
<text x="424.10" y="289.60" font-size="10" text-anchor="middle" textLength="58" lengthAdjust="spacingAndGlyphs" style="stroke:none">Survival after</text>
<text x="425.00" y="300.80" font-size="10" text-anchor="middle" textLength="99.3" lengthAdjust="spacingAndGlyphs" style="stroke:none">completing treatment</text>
<line x1="356.60" y1="313.42" x2="356.60" y2="402.40" stroke="#231f20" stroke-width="1.1"/>
<line x1="353.60" y1="401.90" x2="356.60" y2="401.90" stroke="#231f20" stroke-width="0.9"/>
<line x1="354.60" y1="393.09" x2="356.60" y2="393.09" stroke="#231f20" stroke-width="0.9"/>
<line x1="354.60" y1="384.28" x2="356.60" y2="384.28" stroke="#231f20" stroke-width="0.9"/>
<line x1="354.60" y1="375.48" x2="356.60" y2="375.48" stroke="#231f20" stroke-width="0.9"/>
<line x1="354.60" y1="366.67" x2="356.60" y2="366.67" stroke="#231f20" stroke-width="0.9"/>
<line x1="353.60" y1="357.86" x2="356.60" y2="357.86" stroke="#231f20" stroke-width="0.9"/>
<line x1="354.60" y1="349.05" x2="356.60" y2="349.05" stroke="#231f20" stroke-width="0.9"/>
<line x1="354.60" y1="340.24" x2="356.60" y2="340.24" stroke="#231f20" stroke-width="0.9"/>
<line x1="354.60" y1="331.44" x2="356.60" y2="331.44" stroke="#231f20" stroke-width="0.9"/>
<line x1="354.60" y1="322.63" x2="356.60" y2="322.63" stroke="#231f20" stroke-width="0.9"/>
<line x1="353.60" y1="313.82" x2="356.60" y2="313.82" stroke="#231f20" stroke-width="0.9"/>
<text x="352.20" y="405.00" font-size="8.7" text-anchor="end">0</text>
<text x="352.20" y="360.96" font-size="8.7" text-anchor="end">50</text>
<text x="352.20" y="316.92" font-size="8.7" text-anchor="end">100</text>
<line x1="353.80" y1="401.90" x2="490.90" y2="401.90" stroke="#231f20" stroke-width="1.1"/>
<line x1="356.60" y1="401.90" x2="356.60" y2="404.90" stroke="#231f20" stroke-width="0.9"/>
<line x1="369.78" y1="401.90" x2="369.78" y2="403.90" stroke="#231f20" stroke-width="0.9"/>
<line x1="382.96" y1="401.90" x2="382.96" y2="404.90" stroke="#231f20" stroke-width="0.9"/>
<line x1="396.14" y1="401.90" x2="396.14" y2="403.90" stroke="#231f20" stroke-width="0.9"/>
<line x1="409.32" y1="401.90" x2="409.32" y2="404.90" stroke="#231f20" stroke-width="0.9"/>
<line x1="422.50" y1="401.90" x2="422.50" y2="403.90" stroke="#231f20" stroke-width="0.9"/>
<line x1="435.68" y1="401.90" x2="435.68" y2="404.90" stroke="#231f20" stroke-width="0.9"/>
<line x1="448.86" y1="401.90" x2="448.86" y2="403.90" stroke="#231f20" stroke-width="0.9"/>
<line x1="462.04" y1="401.90" x2="462.04" y2="404.90" stroke="#231f20" stroke-width="0.9"/>
<line x1="475.22" y1="401.90" x2="475.22" y2="403.90" stroke="#231f20" stroke-width="0.9"/>
<line x1="488.40" y1="401.90" x2="488.40" y2="404.90" stroke="#231f20" stroke-width="0.9"/>
<text x="356.60" y="415.00" font-size="8.7" text-anchor="middle">0</text>
<text x="382.96" y="415.00" font-size="8.7" text-anchor="middle">2</text>
<text x="409.32" y="415.00" font-size="8.7" text-anchor="middle">4</text>
<text x="435.68" y="415.00" font-size="8.7" text-anchor="middle">6</text>
<text x="462.04" y="415.00" font-size="8.7" text-anchor="middle">8</text>
<text x="488.40" y="415.00" font-size="8.7" text-anchor="middle">10</text>
<text x="424.10" y="428.80" font-size="9.5" text-anchor="middle" textLength="54.5" lengthAdjust="spacingAndGlyphs">Time in months</text>
<text x="331.50" y="357.20" font-size="9.6" text-anchor="middle" transform="rotate(-90 331.50 357.20)" textLength="77.6" lengthAdjust="spacingAndGlyphs">Probability of survival</text>
<polyline points="409.32,313.82 409.32,322.63 422.50,322.63 422.50,349.05 435.68,349.05 435.68,357.86 448.86,357.86 448.86,366.67 462.04,366.67" stroke="#e0308a" stroke-width="1.5" fill="none" stroke-linejoin="miter"/>
<polyline points="396.14,313.82 409.32,313.82" stroke="#e0308a" stroke-width="1.5" fill="none" stroke-linejoin="miter"/>
<polyline points="369.78,313.82 396.14,313.82 396.14,331.44 409.32,331.44 409.32,366.67 422.50,366.67 422.50,384.28 448.86,384.28 448.86,401.90" stroke="#c0123c" stroke-width="1.5" fill="none" stroke-linejoin="miter"/>
<polyline points="369.78,357.86 382.96,357.86 382.96,366.67" stroke="#3cb44a" stroke-width="1.5" fill="none" stroke-linejoin="miter"/>
<polyline points="356.60,313.82 369.78,313.82 369.78,366.67 382.96,366.67 382.96,401.90" stroke="#1a4279" stroke-width="1.5" fill="none" stroke-linejoin="miter"/>
<line x1="445.40" y1="315.40" x2="451.40" y2="315.40" stroke="#1a4279" stroke-width="1.3"/>
<text x="455.80" y="318.30" font-size="8.2">Vehicle</text>
<line x1="445.40" y1="325.70" x2="451.40" y2="325.70" stroke="#3cb44a" stroke-width="1.3"/>
<text x="455.80" y="328.60" font-size="8.2">HIF</text>
<line x1="445.40" y1="336.00" x2="451.40" y2="336.00" stroke="#c0123c" stroke-width="1.3"/>
<text x="455.80" y="338.90" font-size="8.2">TKI</text>
<line x1="445.40" y1="346.30" x2="451.40" y2="346.30" stroke="#e0308a" stroke-width="1.3"/>
<text x="455.80" y="349.20" font-size="8.2">TKI + HIFi</text>
<text x="46.00" y="458.50" font-size="12.5" font-weight="bold">G</text>
<text x="58.80" y="478.80" font-size="9" textLength="62.4" lengthAdjust="spacingAndGlyphs">Human CML BM</text>
<line x1="125.00" y1="476.30" x2="162.20" y2="476.30" stroke="#3fa3d1" stroke-width="1.15"/>
<path d="M166.30,476.30 L161.70,474.00 L162.62,476.30 L161.70,478.60 Z" fill="#3fa3d1"/>
<text x="144.30" y="455.60" font-size="9" textLength="30.2" lengthAdjust="spacingAndGlyphs">400 cGy</text>
<use href="#bolt" transform="translate(180.9,448.6) scale(0.93)"/>
<use href="#mouse" transform="translate(189.4,467.6) scale(0.93)"/>
<text x="146.30" y="507.10" font-size="9" textLength="70" lengthAdjust="spacingAndGlyphs">NRGS (SGM3) mice</text>
<line x1="206.30" y1="476.30" x2="228.40" y2="476.30" stroke="#3fa3d1" stroke-width="1.15"/>
<path d="M232.50,476.30 L227.90,474.00 L228.82,476.30 L227.90,478.60 Z" fill="#3fa3d1"/>
<text x="265.10" y="468.40" font-size="9" text-anchor="middle" textLength="26.2" lengthAdjust="spacingAndGlyphs">Human</text>
<text x="265.20" y="478.80" font-size="9" text-anchor="middle" textLength="42" lengthAdjust="spacingAndGlyphs">CD45+ cell</text>
<text x="265.10" y="488.60" font-size="9" text-anchor="middle" textLength="46.2" lengthAdjust="spacingAndGlyphs">engraftment</text>
<line x1="295.00" y1="476.30" x2="395.90" y2="476.30" stroke="#3fa3d1" stroke-width="1.15"/>
<path d="M400.00,476.30 L395.40,474.00 L396.32,476.30 L395.40,478.60 Z" fill="#3fa3d1"/>
<line x1="329.30" y1="500.20" x2="329.30" y2="481.70" stroke="#3fa3d1" stroke-width="1.15"/>
<path d="M329.30,477.60 L327.00,482.20 L329.30,481.28 L331.60,482.20 Z" fill="#3fa3d1"/>
<line x1="341.30" y1="500.20" x2="341.30" y2="481.70" stroke="#3fa3d1" stroke-width="1.15"/>
<path d="M341.30,477.60 L339.00,482.20 L341.30,481.28 L343.60,482.20 Z" fill="#3fa3d1"/>
<line x1="352.60" y1="500.20" x2="352.60" y2="481.70" stroke="#3fa3d1" stroke-width="1.15"/>
<path d="M352.60,477.60 L350.30,482.20 L352.60,481.28 L354.90,482.20 Z" fill="#3fa3d1"/>
<line x1="364.30" y1="500.20" x2="364.30" y2="481.70" stroke="#3fa3d1" stroke-width="1.15"/>
<path d="M364.30,477.60 L362.00,482.20 L364.30,481.28 L366.60,482.20 Z" fill="#3fa3d1"/>
<text x="304.50" y="461.30" font-size="9" textLength="84.3" lengthAdjust="spacingAndGlyphs">Vehicle, Nilotinib, HIFi,</text>
<text x="295.50" y="470.60" font-size="9" textLength="102.5" lengthAdjust="spacingAndGlyphs">Nilotinib+HIFi combination</text>
<text x="307.00" y="510.00" font-size="9" textLength="80" lengthAdjust="spacingAndGlyphs">In vivo administration</text>
<text x="332.00" y="519.00" font-size="9" textLength="30.5" lengthAdjust="spacingAndGlyphs">2 weeks</text>
<text x="411.30" y="473.30" font-size="9" textLength="63.2" lengthAdjust="spacingAndGlyphs">Stem/progenitor</text>
<text x="421.30" y="483.70" font-size="9" textLength="43.7" lengthAdjust="spacingAndGlyphs">cell analysis</text>
<text x="8.00" y="548.00" font-size="12.5" font-weight="bold">H</text>
<text x="58.00" y="558.20" font-size="9.9" textLength="64.5" lengthAdjust="spacingAndGlyphs" style="stroke:none">Hu CD45 cells</text>
<line x1="52.80" y1="578.00" x2="52.80" y2="651.85" stroke="#231f20" stroke-width="1.15"/>
<line x1="49.40" y1="651.40" x2="52.80" y2="651.40" stroke="#231f20" stroke-width="1.15"/>
<text x="47.30" y="654.44" font-size="9.2" text-anchor="end" textLength="4.96" lengthAdjust="spacingAndGlyphs">0</text>
<line x1="49.40" y1="633.85" x2="52.80" y2="633.85" stroke="#231f20" stroke-width="1.15"/>
<text x="47.30" y="636.89" font-size="9.2" text-anchor="end" textLength="9.93" lengthAdjust="spacingAndGlyphs">10</text>
<line x1="49.40" y1="616.30" x2="52.80" y2="616.30" stroke="#231f20" stroke-width="1.15"/>
<text x="47.30" y="619.34" font-size="9.2" text-anchor="end" textLength="9.93" lengthAdjust="spacingAndGlyphs">20</text>
<line x1="49.40" y1="598.75" x2="52.80" y2="598.75" stroke="#231f20" stroke-width="1.15"/>
<text x="47.30" y="601.79" font-size="9.2" text-anchor="end" textLength="9.93" lengthAdjust="spacingAndGlyphs">30</text>
<line x1="49.40" y1="581.20" x2="52.80" y2="581.20" stroke="#231f20" stroke-width="1.15"/>
<text x="47.30" y="584.24" font-size="9.2" text-anchor="end" textLength="9.93" lengthAdjust="spacingAndGlyphs">40</text>
<text x="32.10" y="614.60" font-size="9.8" text-anchor="middle" transform="rotate(-90 32.10 614.60)" textLength="55.5" lengthAdjust="spacingAndGlyphs">Abs count ×10<tspan font-size="7" dy="-3.4">5</tspan></text>
<rect x="59.45" y="621.56" width="9.90" height="29.84" fill="#9a9fae" stroke="none" stroke-width="0"/>
<line x1="64.40" y1="621.56" x2="64.40" y2="616.65" stroke="#3a4050" stroke-width="0.9"/>
<line x1="62.30" y1="616.65" x2="66.50" y2="616.65" stroke="#3a4050" stroke-width="0.9"/>
<circle cx="64.40" cy="604.37" r="1.4" fill="#3a4050"/>
<circle cx="64.40" cy="609.28" r="1.4" fill="#3a4050"/>
<circle cx="60.60" cy="617.00" r="1.4" fill="#3a4050"/>
<circle cx="64.70" cy="616.65" r="1.4" fill="#3a4050"/>
<circle cx="68.20" cy="617.35" r="1.4" fill="#3a4050"/>
<circle cx="61.00" cy="624.20" r="1.4" fill="#3a4050"/>
<circle cx="66.60" cy="625.07" r="1.4" fill="#3a4050"/>
<circle cx="64.40" cy="631.74" r="1.4" fill="#3a4050"/>
<circle cx="64.60" cy="638.76" r="1.4" fill="#3a4050"/>
<rect x="76.15" y="642.98" width="9.90" height="8.42" fill="#f5a8a8" stroke="none" stroke-width="0"/>
<line x1="81.10" y1="642.98" x2="81.10" y2="641.22" stroke="#d42030" stroke-width="0.9"/>
<line x1="79.00" y1="641.22" x2="83.20" y2="641.22" stroke="#d42030" stroke-width="0.9"/>
<circle cx="83.40" cy="633.85" r="1.4" fill="#d42030"/>
<circle cx="79.90" cy="636.66" r="1.4" fill="#d42030"/>
<circle cx="81.10" cy="641.22" r="1.4" fill="#d42030"/>
<circle cx="77.50" cy="642.98" r="1.4" fill="#d42030"/>
<circle cx="84.70" cy="643.33" r="1.4" fill="#d42030"/>
<circle cx="79.10" cy="645.61" r="1.4" fill="#d42030"/>
<circle cx="82.70" cy="646.13" r="1.4" fill="#d42030"/>
<circle cx="77.70" cy="648.59" r="1.4" fill="#d42030"/>
<circle cx="84.10" cy="648.77" r="1.4" fill="#d42030"/>
<rect x="92.95" y="634.73" width="9.90" height="16.67" fill="#b0e0a8" stroke="none" stroke-width="0"/>
<line x1="97.90" y1="634.73" x2="97.90" y2="631.74" stroke="#3cae44" stroke-width="0.9"/>
<line x1="95.80" y1="631.74" x2="100.00" y2="631.74" stroke="#3cae44" stroke-width="0.9"/>
<circle cx="95.70" cy="631.74" r="1.4" fill="#3cae44"/>
<circle cx="100.10" cy="631.74" r="1.4" fill="#3cae44"/>
<circle cx="94.10" cy="636.66" r="1.4" fill="#3cae44"/>
<circle cx="101.70" cy="636.66" r="1.4" fill="#3cae44"/>
<circle cx="97.90" cy="638.06" r="1.4" fill="#3cae44"/>
<circle cx="97.90" cy="644.03" r="1.4" fill="#3cae44"/>
<rect x="109.25" y="641.57" width="9.90" height="9.83" fill="#9cb0d8" stroke="none" stroke-width="0"/>
<line x1="114.20" y1="641.57" x2="114.20" y2="638.76" stroke="#1c3c80" stroke-width="0.9"/>
<line x1="112.10" y1="638.76" x2="116.30" y2="638.76" stroke="#1c3c80" stroke-width="0.9"/>
<circle cx="114.20" cy="632.97" r="1.4" fill="#1c3c80"/>
<circle cx="114.20" cy="637.01" r="1.4" fill="#1c3c80"/>
<circle cx="110.60" cy="640.87" r="1.4" fill="#1c3c80"/>
<circle cx="117.80" cy="640.87" r="1.4" fill="#1c3c80"/>
<circle cx="110.80" cy="644.38" r="1.4" fill="#1c3c80"/>
<circle cx="114.70" cy="643.85" r="1.4" fill="#1c3c80"/>
<circle cx="118.00" cy="645.08" r="1.4" fill="#1c3c80"/>
<circle cx="110.60" cy="648.77" r="1.4" fill="#1c3c80"/>
<circle cx="114.60" cy="648.94" r="1.4" fill="#1c3c80"/>
<circle cx="118.00" cy="648.94" r="1.4" fill="#1c3c80"/>
<line x1="52.35" y1="651.40" x2="125.80" y2="651.40" stroke="#231f20" stroke-width="1.15"/>
<line x1="64.40" y1="651.40" x2="64.40" y2="654.40" stroke="#231f20" stroke-width="1.15"/>
<line x1="81.10" y1="651.40" x2="81.10" y2="654.40" stroke="#231f20" stroke-width="1.15"/>
<line x1="97.90" y1="651.40" x2="97.90" y2="654.40" stroke="#231f20" stroke-width="1.15"/>
<line x1="114.20" y1="651.40" x2="114.20" y2="654.40" stroke="#231f20" stroke-width="1.15"/>
<polyline points="64.40,581.00 64.40,571.60 114.20,571.60 114.20,632.00" stroke="#58595b" stroke-width="0.8" fill="none"/>
<text x="90.05" y="572.07" font-size="8.5" text-anchor="middle" letter-spacing="0.5" fill="#333">****</text>
<polyline points="64.40,588.60 64.40,584.30 97.90,584.30 97.90,626.60" stroke="#58595b" stroke-width="0.8" fill="none"/>
<text x="81.55" y="584.97" font-size="8.5" text-anchor="middle" letter-spacing="0.5" fill="#333">**</text>
<polyline points="64.40,602.30 64.40,597.70 81.10,597.70 81.10,631.00" stroke="#58595b" stroke-width="0.8" fill="none"/>
<text x="73.15" y="597.88" font-size="8.5" text-anchor="middle" letter-spacing="0.5" fill="#333">****</text>
<text x="68.00" y="660.90" font-size="8.8" text-anchor="end" transform="rotate(-45 68.00 660.90)">Vehicle</text>
<text x="84.70" y="660.90" font-size="8.8" text-anchor="end" transform="rotate(-45 84.70 660.90)">TKI</text>
<text x="101.50" y="660.90" font-size="8.8" text-anchor="end" transform="rotate(-45 101.50 660.90)">HIFi</text>
<text x="117.80" y="660.90" font-size="8.8" text-anchor="end" transform="rotate(-45 117.80 660.90)">TKI + HIFi</text>
<text x="142.90" y="548.00" font-size="12.5" font-weight="bold">I</text>
<text x="194.60" y="546.40" font-size="9.9" textLength="46.9" lengthAdjust="spacingAndGlyphs" style="stroke:none">Hu CD34+</text>
<text x="190.80" y="558.40" font-size="9.9" textLength="55" lengthAdjust="spacingAndGlyphs" style="stroke:none">CD38+ cells</text>
<line x1="182.80" y1="578.00" x2="182.80" y2="651.85" stroke="#231f20" stroke-width="1.15"/>
<line x1="179.40" y1="651.40" x2="182.80" y2="651.40" stroke="#231f20" stroke-width="1.15"/>
<text x="176.40" y="654.44" font-size="9.2" text-anchor="end" textLength="4.76" lengthAdjust="spacingAndGlyphs">0</text>
<line x1="179.40" y1="628.00" x2="182.80" y2="628.00" stroke="#231f20" stroke-width="1.15"/>
<text x="176.40" y="631.04" font-size="9.2" text-anchor="end" textLength="4.76" lengthAdjust="spacingAndGlyphs">5</text>
<line x1="179.40" y1="604.60" x2="182.80" y2="604.60" stroke="#231f20" stroke-width="1.15"/>
<text x="176.40" y="607.64" font-size="9.2" text-anchor="end" textLength="9.52" lengthAdjust="spacingAndGlyphs">10</text>
<line x1="179.40" y1="581.20" x2="182.80" y2="581.20" stroke="#231f20" stroke-width="1.15"/>
<text x="176.40" y="584.24" font-size="9.2" text-anchor="end" textLength="9.52" lengthAdjust="spacingAndGlyphs">15</text>
<text x="162.10" y="614.50" font-size="9.8" text-anchor="middle" transform="rotate(-90 162.10 614.50)" textLength="58.5" lengthAdjust="spacingAndGlyphs">Abs counts ×10<tspan font-size="7" dy="-3.4">5</tspan></text>
<rect x="188.70" y="626.60" width="10.00" height="24.80" fill="#7087bd" stroke="none" stroke-width="0"/>
<line x1="193.70" y1="626.60" x2="193.70" y2="620.04" stroke="#1e3f7e" stroke-width="0.9"/>
<line x1="191.60" y1="620.04" x2="195.80" y2="620.04" stroke="#1e3f7e" stroke-width="0.9"/>
<circle cx="193.70" cy="604.60" r="1.4" fill="#1e3f7e"/>
<circle cx="193.70" cy="611.62" r="1.4" fill="#1e3f7e"/>
<circle cx="193.70" cy="620.98" r="1.4" fill="#1e3f7e"/>
<circle cx="189.30" cy="627.53" r="1.4" fill="#1e3f7e"/>
<circle cx="198.10" cy="627.53" r="1.4" fill="#1e3f7e"/>
<circle cx="193.70" cy="632.68" r="1.4" fill="#1e3f7e"/>
<circle cx="189.50" cy="640.17" r="1.4" fill="#1e3f7e"/>
<circle cx="197.90" cy="640.17" r="1.4" fill="#1e3f7e"/>
<rect x="205.20" y="640.17" width="10.00" height="11.23" fill="#f4a4a4" stroke="none" stroke-width="0"/>
<line x1="210.20" y1="640.17" x2="210.20" y2="637.83" stroke="#d42030" stroke-width="0.9"/>
<line x1="208.10" y1="637.83" x2="212.30" y2="637.83" stroke="#d42030" stroke-width="0.9"/>
<circle cx="211.80" cy="629.87" r="1.4" fill="#d42030"/>
<circle cx="207.80" cy="634.08" r="1.4" fill="#d42030"/>
<circle cx="213.80" cy="638.30" r="1.4" fill="#d42030"/>
<circle cx="207.00" cy="638.76" r="1.4" fill="#d42030"/>
<circle cx="208.80" cy="642.04" r="1.4" fill="#d42030"/>
<circle cx="212.10" cy="641.57" r="1.4" fill="#d42030"/>
<circle cx="206.00" cy="645.78" r="1.4" fill="#d42030"/>
<circle cx="210.00" cy="645.78" r="1.4" fill="#d42030"/>
<circle cx="214.40" cy="645.78" r="1.4" fill="#d42030"/>
<rect x="221.20" y="635.96" width="10.00" height="15.44" fill="#b0e0a8" stroke="none" stroke-width="0"/>
<line x1="226.20" y1="635.96" x2="226.20" y2="634.08" stroke="#3cae44" stroke-width="0.9"/>
<line x1="224.10" y1="634.08" x2="228.30" y2="634.08" stroke="#3cae44" stroke-width="0.9"/>
<circle cx="226.20" cy="628.00" r="1.4" fill="#3cae44"/>
<circle cx="221.80" cy="636.42" r="1.4" fill="#3cae44"/>
<circle cx="230.40" cy="635.96" r="1.4" fill="#3cae44"/>
<circle cx="226.20" cy="641.10" r="1.4" fill="#3cae44"/>
<circle cx="222.60" cy="645.32" r="1.4" fill="#3cae44"/>
<circle cx="230.00" cy="645.78" r="1.4" fill="#3cae44"/>
<rect x="237.40" y="640.40" width="10.00" height="11.00" fill="#f3a6c6" stroke="none" stroke-width="0"/>
<line x1="242.40" y1="640.40" x2="242.40" y2="638.30" stroke="#e0207a" stroke-width="0.9"/>
<line x1="240.30" y1="638.30" x2="244.50" y2="638.30" stroke="#e0207a" stroke-width="0.9"/>
<circle cx="242.40" cy="632.21" r="1.4" fill="#e0207a"/>
<circle cx="238.20" cy="635.96" r="1.4" fill="#e0207a"/>
<circle cx="246.40" cy="636.42" r="1.4" fill="#e0207a"/>
<circle cx="240.20" cy="640.17" r="1.4" fill="#e0207a"/>
<circle cx="245.00" cy="640.17" r="1.4" fill="#e0207a"/>
<circle cx="237.80" cy="645.78" r="1.4" fill="#e0207a"/>
<circle cx="246.40" cy="645.78" r="1.4" fill="#e0207a"/>
<circle cx="242.00" cy="647.66" r="1.4" fill="#e0207a"/>
<line x1="182.35" y1="651.40" x2="253.70" y2="651.40" stroke="#231f20" stroke-width="1.15"/>
<line x1="193.70" y1="651.40" x2="193.70" y2="654.40" stroke="#231f20" stroke-width="1.15"/>
<line x1="210.20" y1="651.40" x2="210.20" y2="654.40" stroke="#231f20" stroke-width="1.15"/>
<line x1="226.20" y1="651.40" x2="226.20" y2="654.40" stroke="#231f20" stroke-width="1.15"/>
<line x1="242.40" y1="651.40" x2="242.40" y2="654.40" stroke="#231f20" stroke-width="1.15"/>
<polyline points="193.70,581.20 193.70,571.00 242.40,571.00 242.40,630.90" stroke="#58595b" stroke-width="0.8" fill="none"/>
<text x="217.95" y="570.97" font-size="8.5" text-anchor="middle" letter-spacing="0.5" fill="#333">**</text>
<polyline points="193.70,588.60 193.70,584.30 226.20,584.30 226.20,626.60" stroke="#58595b" stroke-width="0.8" fill="none"/>
<text x="210.55" y="584.77" font-size="8.5" text-anchor="middle" letter-spacing="0.5" fill="#333">*</text>
<polyline points="193.70,602.30 193.70,597.00 210.20,597.00 210.20,627.30" stroke="#58595b" stroke-width="0.8" fill="none"/>
<text x="202.05" y="597.47" font-size="8.5" text-anchor="middle" letter-spacing="0.5" fill="#333">**</text>
<text x="197.30" y="660.90" font-size="8.8" text-anchor="end" transform="rotate(-45 197.30 660.90)">Vehicle</text>
<text x="213.80" y="660.90" font-size="8.8" text-anchor="end" transform="rotate(-45 213.80 660.90)">TKI</text>
<text x="229.80" y="660.90" font-size="8.8" text-anchor="end" transform="rotate(-45 229.80 660.90)">HIFi</text>
<text x="246.00" y="660.90" font-size="8.8" text-anchor="end" transform="rotate(-45 246.00 660.90)">TKI + HIFi</text>
<text x="269.90" y="548.30" font-size="12.5" font-weight="bold">J</text>
<text x="313.50" y="546.50" font-size="9.9" textLength="81.7" lengthAdjust="spacingAndGlyphs" style="stroke:none">Hu CD34+ CD38–</text>
<text x="326.30" y="558.60" font-size="9.9" textLength="56.4" lengthAdjust="spacingAndGlyphs" style="stroke:none">CD90+ cells</text>
<line x1="319.10" y1="577.00" x2="319.10" y2="651.85" stroke="#231f20" stroke-width="1.15"/>
<line x1="315.70" y1="651.40" x2="319.10" y2="651.40" stroke="#231f20" stroke-width="1.15"/>
<text x="313.30" y="654.44" font-size="9.2" text-anchor="end" textLength="17.37" lengthAdjust="spacingAndGlyphs">0.00</text>
<line x1="315.70" y1="633.57" x2="319.10" y2="633.57" stroke="#231f20" stroke-width="1.15"/>
<text x="313.30" y="636.61" font-size="9.2" text-anchor="end" textLength="17.37" lengthAdjust="spacingAndGlyphs">0.05</text>
<line x1="315.70" y1="615.75" x2="319.10" y2="615.75" stroke="#231f20" stroke-width="1.15"/>
<text x="313.30" y="618.79" font-size="9.2" text-anchor="end" textLength="17.37" lengthAdjust="spacingAndGlyphs">0.10</text>
<line x1="315.70" y1="597.92" x2="319.10" y2="597.92" stroke="#231f20" stroke-width="1.15"/>
<text x="313.30" y="600.96" font-size="9.2" text-anchor="end" textLength="17.37" lengthAdjust="spacingAndGlyphs">0.15</text>
<line x1="315.70" y1="580.10" x2="319.10" y2="580.10" stroke="#231f20" stroke-width="1.15"/>
<text x="313.30" y="583.14" font-size="9.2" text-anchor="end" textLength="17.37" lengthAdjust="spacingAndGlyphs">0.20</text>
<text x="291.30" y="614.50" font-size="9.8" text-anchor="middle" transform="rotate(-90 291.30 614.50)" textLength="54.5" lengthAdjust="spacingAndGlyphs">Abs count ×10<tspan font-size="7" dy="-3.4">6</tspan></text>
<rect x="325.90" y="620.38" width="9.60" height="31.02" fill="#6f8cc8" stroke="none" stroke-width="0"/>
<line x1="330.70" y1="620.38" x2="330.70" y2="617.53" stroke="#1e3f7e" stroke-width="0.9"/>
<line x1="328.60" y1="617.53" x2="332.80" y2="617.53" stroke="#1e3f7e" stroke-width="0.9"/>
<circle cx="330.70" cy="598.99" r="1.4" fill="#1e3f7e"/>
<circle cx="326.70" cy="617.89" r="1.4" fill="#1e3f7e"/>
<circle cx="330.70" cy="617.53" r="1.4" fill="#1e3f7e"/>
<circle cx="334.30" cy="617.89" r="1.4" fill="#1e3f7e"/>
<circle cx="327.30" cy="622.17" r="1.4" fill="#1e3f7e"/>
<circle cx="333.70" cy="622.88" r="1.4" fill="#1e3f7e"/>
<circle cx="330.70" cy="626.80" r="1.4" fill="#1e3f7e"/>
<circle cx="329.30" cy="632.15" r="1.4" fill="#1e3f7e"/>
<circle cx="331.90" cy="633.57" r="1.4" fill="#1e3f7e"/>
<rect x="341.40" y="631.79" width="9.60" height="19.61" fill="#f09a9a" stroke="none" stroke-width="0"/>
<line x1="346.20" y1="631.79" x2="346.20" y2="626.09" stroke="#d42030" stroke-width="0.9"/>
<line x1="344.10" y1="626.09" x2="348.30" y2="626.09" stroke="#d42030" stroke-width="0.9"/>
<circle cx="346.20" cy="603.27" r="1.4" fill="#d42030"/>
<circle cx="346.20" cy="619.67" r="1.4" fill="#d42030"/>
<circle cx="343.40" cy="626.09" r="1.4" fill="#d42030"/>
<circle cx="349.00" cy="626.44" r="1.4" fill="#d42030"/>
<circle cx="346.20" cy="636.07" r="1.4" fill="#d42030"/>
<circle cx="342.20" cy="644.27" r="1.4" fill="#d42030"/>
<circle cx="346.20" cy="644.98" r="1.4" fill="#d42030"/>
<circle cx="350.20" cy="644.27" r="1.4" fill="#d42030"/>
<circle cx="342.20" cy="648.55" r="1.4" fill="#d42030"/>
<circle cx="350.20" cy="648.55" r="1.4" fill="#d42030"/>
<rect x="357.10" y="636.78" width="9.60" height="14.62" fill="#b0e0a8" stroke="none" stroke-width="0"/>
<line x1="361.90" y1="636.78" x2="361.90" y2="635.00" stroke="#3cae44" stroke-width="0.9"/>
<line x1="359.80" y1="635.00" x2="364.00" y2="635.00" stroke="#3cae44" stroke-width="0.9"/>
<circle cx="361.90" cy="628.94" r="1.4" fill="#3cae44"/>
<circle cx="357.90" cy="634.64" r="1.4" fill="#3cae44"/>
<circle cx="365.90" cy="634.64" r="1.4" fill="#3cae44"/>
<circle cx="361.50" cy="637.14" r="1.4" fill="#3cae44"/>
<circle cx="358.50" cy="641.06" r="1.4" fill="#3cae44"/>
<circle cx="365.50" cy="641.06" r="1.4" fill="#3cae44"/>
<circle cx="361.90" cy="644.98" r="1.4" fill="#3cae44"/>
<rect x="372.90" y="638.92" width="9.60" height="12.48" fill="#f4a8cc" stroke="none" stroke-width="0"/>
<line x1="377.70" y1="638.92" x2="377.70" y2="637.14" stroke="#e0207a" stroke-width="0.9"/>
<line x1="375.60" y1="637.14" x2="379.80" y2="637.14" stroke="#e0207a" stroke-width="0.9"/>
<circle cx="377.70" cy="631.44" r="1.4" fill="#e0207a"/>
<circle cx="373.90" cy="637.14" r="1.4" fill="#e0207a"/>
<circle cx="378.10" cy="636.43" r="1.4" fill="#e0207a"/>
<circle cx="381.90" cy="635.71" r="1.4" fill="#e0207a"/>
<circle cx="374.90" cy="639.99" r="1.4" fill="#e0207a"/>
<circle cx="380.50" cy="639.99" r="1.4" fill="#e0207a"/>
<circle cx="373.90" cy="643.20" r="1.4" fill="#e0207a"/>
<circle cx="378.00" cy="643.56" r="1.4" fill="#e0207a"/>
<line x1="318.65" y1="651.40" x2="384.70" y2="651.40" stroke="#231f20" stroke-width="1.15"/>
<line x1="330.70" y1="651.40" x2="330.70" y2="654.40" stroke="#231f20" stroke-width="1.15"/>
<line x1="346.20" y1="651.40" x2="346.20" y2="654.40" stroke="#231f20" stroke-width="1.15"/>
<line x1="361.90" y1="651.40" x2="361.90" y2="654.40" stroke="#231f20" stroke-width="1.15"/>
<line x1="377.70" y1="651.40" x2="377.70" y2="654.40" stroke="#231f20" stroke-width="1.15"/>
<polyline points="330.70,589.60 330.70,578.00 377.70,578.00 377.70,629.80" stroke="#58595b" stroke-width="0.8" fill="none"/>
<text x="354.25" y="577.77" font-size="8.5" text-anchor="middle" letter-spacing="0.5" fill="#333">**</text>
<polyline points="330.70,594.90 330.70,591.30 361.90,591.30 361.90,626.60" stroke="#58595b" stroke-width="0.8" fill="none"/>
<text x="346.25" y="591.07" font-size="8.5" text-anchor="middle" letter-spacing="0.5" fill="#333">*</text>
<text x="334.30" y="660.90" font-size="8.8" text-anchor="end" transform="rotate(-45 334.30 660.90)">Vehicle</text>
<text x="349.80" y="660.90" font-size="8.8" text-anchor="end" transform="rotate(-45 349.80 660.90)">TKI</text>
<text x="365.50" y="660.90" font-size="8.8" text-anchor="end" transform="rotate(-45 365.50 660.90)">HIFi</text>
<text x="381.30" y="660.90" font-size="8.8" text-anchor="end" transform="rotate(-45 381.30 660.90)">TKI + HIFi</text>
<text x="412.70" y="548.00" font-size="12.5" font-weight="bold">K</text>
<text x="468.80" y="547.30" font-size="9.9" textLength="32.8" lengthAdjust="spacingAndGlyphs" style="stroke:none">HIF-1α</text>
<text x="459.60" y="558.40" font-size="9.9" textLength="48.5" lengthAdjust="spacingAndGlyphs" style="stroke:none">expression</text>
<line x1="454.00" y1="571.50" x2="454.00" y2="651.35" stroke="#231f20" stroke-width="1.15"/>
<line x1="450.60" y1="650.90" x2="454.00" y2="650.90" stroke="#231f20" stroke-width="1.15"/>
<text x="448.50" y="653.94" font-size="9.2" text-anchor="end" textLength="4.96" lengthAdjust="spacingAndGlyphs">0</text>
<line x1="450.60" y1="631.70" x2="454.00" y2="631.70" stroke="#231f20" stroke-width="1.15"/>
<text x="448.50" y="634.74" font-size="9.2" text-anchor="end" textLength="9.93" lengthAdjust="spacingAndGlyphs">20</text>
<line x1="450.60" y1="612.50" x2="454.00" y2="612.50" stroke="#231f20" stroke-width="1.15"/>
<text x="448.50" y="615.54" font-size="9.2" text-anchor="end" textLength="9.93" lengthAdjust="spacingAndGlyphs">40</text>
<line x1="450.60" y1="593.30" x2="454.00" y2="593.30" stroke="#231f20" stroke-width="1.15"/>
<text x="448.50" y="596.34" font-size="9.2" text-anchor="end" textLength="9.93" lengthAdjust="spacingAndGlyphs">60</text>
<line x1="450.60" y1="574.10" x2="454.00" y2="574.10" stroke="#231f20" stroke-width="1.15"/>
<text x="448.50" y="577.14" font-size="9.2" text-anchor="end" textLength="9.93" lengthAdjust="spacingAndGlyphs">80</text>
<text x="432.90" y="610.90" font-size="10" text-anchor="middle" transform="rotate(-90 432.90 610.90)" textLength="73.8" lengthAdjust="spacingAndGlyphs">% HIF-1alpha + cells</text>
<rect x="464.10" y="635.16" width="15.00" height="15.74" fill="#7a90c8" stroke="none" stroke-width="0"/>
<line x1="471.60" y1="635.16" x2="471.60" y2="629.78" stroke="#1e3f7e" stroke-width="0.9"/>
<line x1="468.85" y1="629.78" x2="474.35" y2="629.78" stroke="#1e3f7e" stroke-width="0.9"/>
<circle cx="471.60" cy="621.14" r="1.4" fill="#1e3f7e"/>
<circle cx="466.00" cy="629.78" r="1.4" fill="#1e3f7e"/>
<circle cx="471.60" cy="631.22" r="1.4" fill="#1e3f7e"/>
<circle cx="477.20" cy="629.78" r="1.4" fill="#1e3f7e"/>
<circle cx="468.00" cy="636.50" r="1.4" fill="#1e3f7e"/>
<circle cx="475.20" cy="636.02" r="1.4" fill="#1e3f7e"/>
<circle cx="466.60" cy="642.26" r="1.4" fill="#1e3f7e"/>
<circle cx="471.80" cy="648.02" r="1.4" fill="#1e3f7e"/>
<rect x="488.80" y="621.14" width="15.00" height="29.76" fill="#f09090" stroke="none" stroke-width="0"/>
<line x1="496.30" y1="621.14" x2="496.30" y2="615.57" stroke="#d42030" stroke-width="0.9"/>
<line x1="493.55" y1="615.57" x2="499.05" y2="615.57" stroke="#d42030" stroke-width="0.9"/>
<circle cx="496.30" cy="591.38" r="1.4" fill="#d42030"/>
<circle cx="496.30" cy="612.88" r="1.4" fill="#d42030"/>
<circle cx="490.30" cy="627.86" r="1.4" fill="#d42030"/>
<circle cx="494.80" cy="628.34" r="1.4" fill="#d42030"/>
<circle cx="502.30" cy="627.86" r="1.4" fill="#d42030"/>
<circle cx="499.10" cy="628.24" r="1.4" fill="#d42030"/>
<circle cx="492.80" cy="624.50" r="1.4" fill="#d42030"/>
<circle cx="499.30" cy="623.54" r="1.4" fill="#d42030"/>
<line x1="453.55" y1="650.90" x2="513.00" y2="650.90" stroke="#231f20" stroke-width="1.15"/>
<line x1="471.60" y1="650.90" x2="471.60" y2="653.90" stroke="#231f20" stroke-width="1.15"/>
<line x1="496.30" y1="650.90" x2="496.30" y2="653.90" stroke="#231f20" stroke-width="1.15"/>
<polyline points="471.60,618.60 471.60,582.20 496.30,582.20 496.30,586.30" stroke="#58595b" stroke-width="0.8" fill="none"/>
<text x="483.95" y="582.27" font-size="8.5" text-anchor="middle" letter-spacing="0.5" fill="#333">*</text>
<text x="475.20" y="660.40" font-size="8.8" text-anchor="end" transform="rotate(-45 475.20 660.40)">Vehicle</text>
<text x="499.90" y="660.40" font-size="8.8" text-anchor="end" transform="rotate(-45 499.90 660.40)">TKI</text>
<line x1="0" y1="0.5" x2="520" y2="0.5" stroke="#4d4d4d" stroke-width="1"/>
<line x1="0.5" y1="0" x2="0.5" y2="696" stroke="#3a3a3a" stroke-width="1"/>
<line x1="519.5" y1="0" x2="519.5" y2="696" stroke="#333" stroke-width="1"/>
<line x1="0" y1="695.5" x2="520" y2="695.5" stroke="#333" stroke-width="1"/>
</svg></body></html>
